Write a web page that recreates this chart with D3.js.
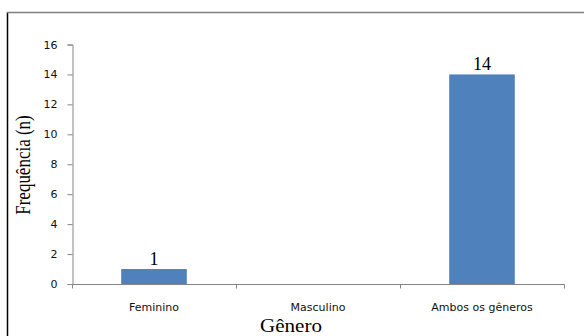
<!DOCTYPE html>
<html>
<head>
<meta charset="utf-8">
<script src="https://cdn.jsdelivr.net/npm/d3@7"></script>
<style>
  html, body { margin: 0; padding: 0; background: #fff; }
  svg { display: block; }
</style>
</head>
<body>
<svg id="chart" width="584" height="336"></svg>
<script>
// Frequency of records by gender category
const categories = ["Feminino", "Masculino", "Ambos os gêneros"];
const values = [1, 0, 14];
const yTicks = [0, 2, 4, 6, 8, 10, 12, 14, 16];

const svg = d3.select("#chart");
const W = 584, H = 336;

// Frame around the chart area
svg.append("line").attr("x1", 7.5).attr("x2", 7.5).attr("y1", 12).attr("y2", H)
  .attr("stroke", "#000").attr("stroke-width", 1.5);
svg.append("line").attr("x1", 7).attr("x2", W).attr("y1", 12.5).attr("y2", 12.5)
  .attr("stroke", "#7f7f7f").attr("stroke-width", 1.5);

const x = d3.scaleBand().domain(categories).range([72, 564]).paddingInner(0).paddingOuter(0);
const y = d3.scaleLinear().domain([0, 16]).range([284, 44.5]);

const axisColor = "#868686";
const serif = "'Liberation Serif', 'Times New Roman', serif";

// Y axis
const yAxis = svg.append("g").attr("transform", "translate(72.5,0)")
  .call(d3.axisLeft(y).tickValues(yTicks).tickSize(5).tickPadding(10));
yAxis.select(".domain").attr("stroke", axisColor);
yAxis.selectAll(".tick line").attr("stroke", axisColor);
yAxis.selectAll(".tick text")
  .attr("fill", "#111").style("font-family", "'DejaVu Sans', sans-serif")
  .style("font-size", "11px");

// X axis with tick marks at category boundaries
const xAxisG = svg.append("g").attr("transform", "translate(0,284.5)");
xAxisG.append("line").attr("x1", 72).attr("x2", 564.5).attr("y1", 0).attr("y2", 0)
  .attr("stroke", axisColor);
const boundaries = categories.map(c => x(c)).concat([x.range()[1]]);
xAxisG.selectAll(".bt").data(boundaries).join("line")
  .attr("x1", d => Math.round(d) + 0.5).attr("x2", d => Math.round(d) + 0.5)
  .attr("y1", 0).attr("y2", 4).attr("stroke", axisColor);
xAxisG.selectAll(".cl").data(categories).join("text")
  .attr("x", d => x(d) + x.bandwidth() / 2).attr("y", 26)
  .attr("text-anchor", "middle")
  .style("font-family", "'DejaVu Sans', sans-serif")
  .style("font-size", "11px").attr("fill", "#111")
  .text(d => d);

// Bars
const barW = x.bandwidth() * 0.4;
svg.selectAll(".bar").data(categories).join("rect")
  .attr("x", d => x(d) + (x.bandwidth() - barW) / 2)
  .attr("width", barW)
  .attr("y", (d, i) => y(values[i]))
  .attr("height", (d, i) => y(0) - y(values[i]))
  .attr("fill", "#4f81bd");

// Value labels (zero values are not labelled)
const labelled = categories.map((c, i) => ({ c, v: values[i] })).filter(d => d.v > 0);
svg.selectAll(".vl").data(labelled).join("text")
  .attr("x", d => x(d.c) + x.bandwidth() / 2)
  .attr("y", d => y(d.v) - 4)
  .attr("text-anchor", "middle")
  .style("font-family", serif)
  .style("font-size", "18px").attr("fill", "#000")
  .text(d => d.v);

// Axis titles (slightly widened serif lettering)
svg.append("text")
  .attr("transform", "translate(291,331.5) scale(1.17,1)")
  .attr("text-anchor", "middle")
  .style("font-family", serif)
  .style("font-size", "18px").attr("fill", "#000")
  .text("Gênero");

svg.append("text")
  .attr("transform", "translate(30,165) rotate(-90) scale(1,1.2)")
  .attr("text-anchor", "middle")
  .style("font-family", serif)
  .style("font-size", "17px").attr("fill", "#000")
  .text("Frequência (n)");
</script>
</body>
</html>
